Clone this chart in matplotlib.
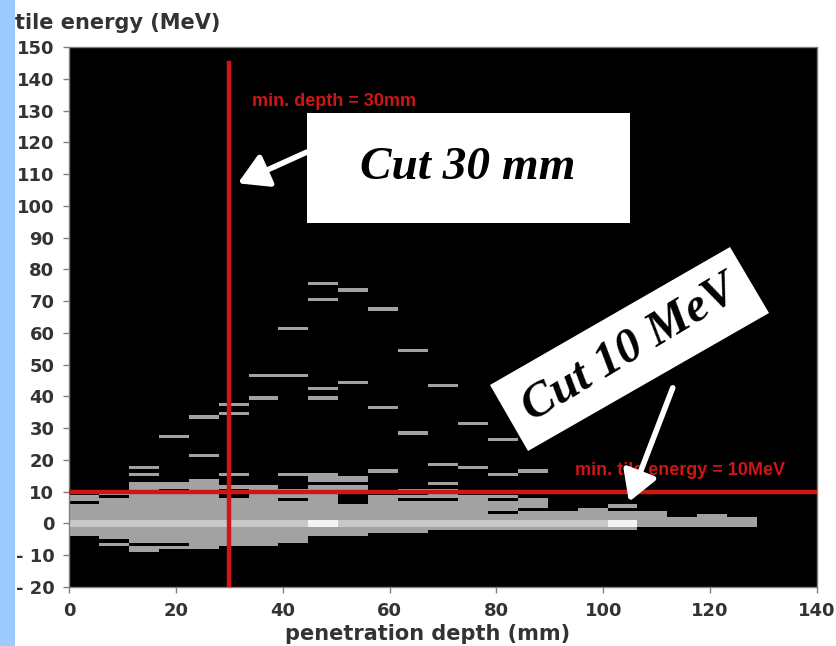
import numpy as np
import matplotlib.pyplot as plt
from matplotlib.colors import ListedColormap, BoundaryNorm
from matplotlib.patches import Rectangle, Polygon

# histogram binning: 5.6 mm depth bins, 1 MeV energy bins
depth_edges = np.linspace(0, 140, 26)
energy_edges = np.arange(-20, 151, 1)

# filled energy ranges (MeV) per depth bin
core_bands = [
    [(-4, 6), (7, 9)],
    [(-7, -6), (-5, 8), (9, 10)],
    [(-9, -7), (-6, 13)],
    [(-8, -7), (-6, 10), (11, 13)],
    [(-8, 14)],
    [(-7, 8), (11, 12)],
    [(-7, 12)],
    [(-6, 7), (8, 11)],
    [(-4, 12), (13, 16)],
    [(-4, 6), (10, 12), (13, 15)],
    [(-3, 9)],
    [(-3, 7), (8, 9), (10, 11)],
    [(-2, 7), (8, 11), (12, 13)],
    [(-2, 9)],
    [(-2, 3), (4, 7), (8, 9)],
    [(-2, 4), (5, 8)],
    [(-2, 4)],
    [(-2, 5)],
    [(-2, 4), (5, 6)],
    [(-1, 4)],
    [(-1, 2)],
    [(-1, 3)],
    [(-1, 2)],
]

# isolated single-bin entries (lower edge in MeV) per depth bin
stray_hits = [
    [], [], [15, 17], [27], [21, 33], [15, 34, 37], [39, 46], [15, 46, 61],
    [39, 42, 70, 75], [44, 73], [16, 36, 67], [28, 54], [18, 43], [17, 31],
    [15, 26], [16], [], [], [], [], [], [], [],
]

# high-count band around 0 MeV
bright_band = (-1, 1)
bright_bins = list(range(0, 19))
white_bins = [8, 18]

depth_cut = 30
energy_cut = 10

# 0 = empty, 1 = filled, 2 = bright core, 3 = brightest
levels = np.zeros((len(energy_edges) - 1, len(depth_edges) - 1))


def fill(col, lo, hi, value):
    rows = (energy_edges[:-1] >= lo) & (energy_edges[:-1] < hi)
    levels[rows, col] = value


for col, bands in enumerate(core_bands):
    for lo, hi in bands:
        fill(col, lo, hi, 1)
for col, hits in enumerate(stray_hits):
    for lo in hits:
        fill(col, lo, lo + 1, 1)
for col in bright_bins:
    fill(col, bright_band[0], bright_band[1], 3 if col in white_bins else 2)

W, H = 836, 646
fig = plt.figure(figsize=(W / 100, H / 100), dpi=100)
ax = fig.add_axes([69 / W, 1 - 587 / H, 748 / W, 540 / H])
ax.set_facecolor('black')

cmap = ListedColormap(['black', '#a2a2a2', '#c8c8c8', '#f4f4f4'])
norm = BoundaryNorm([-0.5, 0.5, 1.5, 2.5, 3.5], cmap.N)
ax.pcolormesh(depth_edges, energy_edges, levels, cmap=cmap, norm=norm, shading='flat')

ax.set_xlim(0, 140)
ax.set_ylim(-20, 150)

red = '#d01515'
ax.plot([depth_cut, depth_cut], [-20, 145], color=red, lw=3.2, zorder=3)
ax.axhline(energy_cut, color=red, lw=3.2, zorder=3)
ax.text(34.2, 133, 'min. depth = 30mm', color=red, fontsize=13,
        family='Liberation Sans', weight='bold', va='center', ha='left', zorder=4)
ax.text(94.7, 16.7, 'min. tile energy = 10MeV', color=red, fontsize=13,
        family='Liberation Sans', weight='bold', va='center', ha='left', zorder=4)

# axis styling
for side in ['top', 'right', 'left', 'bottom']:
    ax.spines[side].set_color('#808080')
    ax.spines[side].set_linewidth(1)
ax.tick_params(direction='out', length=4.5, width=1, color='#808080', pad=6,
               labelsize=13, labelcolor='#333333')
yt = np.arange(-20, 151, 10)
ax.set_yticks(yt)
ax.set_yticklabels([f'- {abs(v)}' if v < 0 else str(v) for v in yt])
ax.set_xticks(np.arange(0, 141, 20))
for lab in ax.get_xticklabels() + ax.get_yticklabels():
    lab.set_fontweight('bold')

fig.text(15 / W, 1 - 23 / H, 'tile energy (MeV)', fontsize=15, weight='bold',
         color='#333333', ha='left', va='center')
fig.text(428 / W, 1 - 634 / H, 'penetration depth (mm)', fontsize=15, weight='bold',
         color='#333333', ha='center', va='center')

# callout boxes
ax.add_patch(Rectangle((44.5, 94.6), 60.5, 34.6, facecolor='white', edgecolor='none', zorder=5))
ax.text(74.7, 111.9, 'Cut 30 mm', family='Liberation Serif', style='italic', weight='bold',
        fontsize=34, color='black', ha='center', va='center', zorder=6)

corners = [(490, 385), (730, 247), (769, 313), (528, 451)]
fig.add_artist(Polygon([(x / W, 1 - y / H) for x, y in corners], closed=True,
                       transform=fig.transFigure, facecolor='white', edgecolor='none', zorder=5))
fig.text(629.5 / W, 1 - 349 / H, 'Cut 10 MeV', family='Liberation Serif', style='italic',
         weight='bold', fontsize=35, color='black', rotation=31, rotation_mode='anchor',
         ha='center', va='center', zorder=6)

arrow = dict(arrowstyle='-|>,head_length=0.6,head_width=0.35', color='white', lw=4,
             mutation_scale=30, shrinkA=0, shrinkB=0)
ax.annotate('', xy=(31.6, 107.1), xytext=(44.5, 116.9), arrowprops=arrow, zorder=7)
ax.annotate('', xy=(104.8, 6.8), xytext=(113.0, 42.7), arrowprops=arrow, zorder=7)

# blue slide margin
fig.add_artist(Rectangle((0, 0), 15 / W, 1, transform=fig.transFigure,
                         facecolor='#9ccafc', edgecolor='none', zorder=10))

fig.savefig('out.png', dpi=100)
